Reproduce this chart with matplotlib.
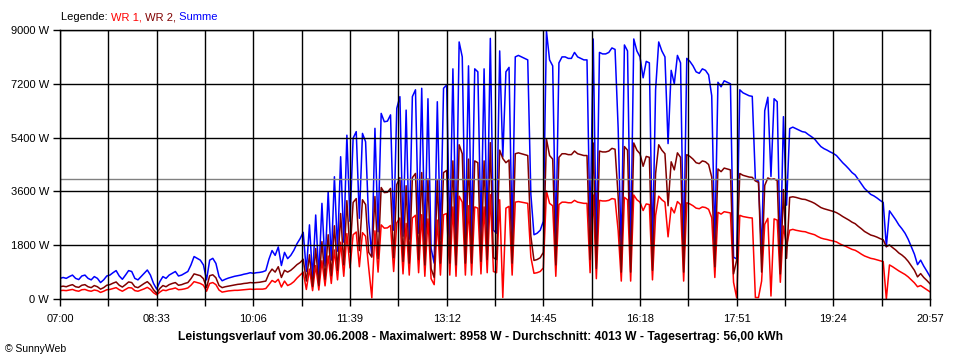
import numpy as np
import matplotlib
matplotlib.use("Agg")
import matplotlib.pyplot as plt

plt.rcParams['font.family'] = ['Liberation Sans', 'DejaVu Sans']

# Leistung je Wechselrichter, ein Wert alle 3 Minuten ab 07:00 (W)
start_label = "07:00"
step_min = 3

wr2 = [
    410, 430, 410, 450, 480, 410, 390, 460, 480, 410,
    380, 450, 410, 330, 380, 460, 480, 530, 570, 460,
    400, 480, 570, 550, 410, 380, 450, 520, 580, 480,
    310, 190, 350, 450, 410, 480, 520, 550, 460, 480,
    520, 550, 680, 840, 810, 780, 680, 380, 780, 810,
    710, 450, 380, 410, 430, 450, 470, 490, 500, 520,
    530, 550, 540, 550, 560, 580, 600, 850, 1000, 900,
    1080, 720, 960, 900, 960, 1050, 1150, 1220, 1330, 600,
    1480, 420, 1690, 450, 1920, 660, 2150, 780, 2450, 960,
    2860, 1140, 3290, 1560, 3230, 3360, 1620, 3320, 3160, 1560,
    1400, 3430, 1350, 3730, 3560, 3570, 3700, 1380, 3830, 4060,
    1260, 3790, 1200, 4060, 4200, 1320, 4230, 1140, 4020, 1020,
    720, 3960, 1200, 4230, 4300, 1200, 4620, 1140, 5160, 4860,
    1200, 4680, 1200, 4620, 4560, 1260, 4620, 1320, 5230, 1380,
    1320, 4980, 4700, 4560, 4650, 1200, 4860, 4890, 4860, 4830,
    4800, 2100, 1290, 1320, 1380, 1560, 5350, 4800, 4680, 1140,
    4740, 4860, 4860, 4830, 4830, 4950, 4860, 4830, 4800, 4800,
    1320, 5220, 1020, 4950, 4920, 4920, 4950, 5040, 5010, 3420,
    900, 5100, 4980, 900, 5220, 4980, 4860, 4440, 4770, 4740,
    960, 4200, 5160, 4980, 4860, 3120, 4590, 4320, 4890, 4740,
    900, 4830, 4770, 4680, 4560, 4530, 4620, 4590, 4500, 4080,
    1080, 4350, 4260, 4380, 4350, 4320, 840, 1300, 4200, 4140,
    4110, 4080, 4070, 3950, 3900, 900, 3800, 4050, 4000, 4020,
    3960, 840, 3660, 1360, 3400, 3420, 3400, 3370, 3340, 3330,
    3290, 3250, 3200, 3130, 3060, 3020, 2990, 2960, 2930, 2890,
    2830, 2760, 2700, 2640, 2570, 2520, 2430, 2350, 2260, 2200,
    2140, 2110, 2070, 2020, 1980, 1750, 1810, 1720, 1640, 1540,
    1470, 1380, 1260, 1110, 960, 740, 850, 720, 620, 510,
]

wr1 = [
    280, 290, 280, 300, 320, 280, 260, 310, 320, 280,
    260, 300, 280, 220, 260, 310, 320, 350, 380, 310,
    260, 320, 380, 370, 280, 260, 300, 340, 390, 320,
    210, 140, 230, 300, 280, 320, 340, 370, 310, 320,
    340, 370, 460, 580, 550, 520, 460, 260, 520, 550,
    480, 300, 230, 250, 270, 280, 290, 290, 300, 310,
    320, 330, 320, 330, 330, 330, 350, 480, 620, 560,
    660, 400, 600, 450, 500, 580, 700, 800, 900, 320,
    1000, 280, 1120, 300, 1280, 440, 1440, 520, 1640, 640,
    1900, 760, 2190, 1040, 2150, 2240, 1080, 2220, 2100, 1040,
    40, 2280, 900, 2480, 2370, 2380, 2460, 920, 2550, 2710,
    840, 2530, 800, 2710, 2800, 880, 2820, 760, 2680, 680,
    480, 2640, 800, 2820, 2860, 800, 3080, 760, 3440, 3240,
    800, 3120, 800, 3080, 3040, 840, 3080, 880, 3490, 920,
    880, 3320, 50, 3040, 3100, 800, 3240, 3260, 3240, 3220,
    3200, 1400, 860, 880, 920, 1040, 3610, 3200, 3120, 760,
    3160, 3240, 3240, 3220, 3220, 3300, 3240, 3220, 3200, 3200,
    880, 3480, 680, 3300, 3280, 3280, 3300, 3360, 3340, 2280,
    600, 3400, 3320, 600, 3480, 3320, 3240, 2960, 3180, 3160,
    640, 2800, 3440, 3320, 3240, 2080, 3060, 2880, 3260, 3160,
    600, 3220, 3180, 3120, 3040, 3020, 3080, 3060, 3000, 2720,
    720, 2900, 2840, 2920, 2900, 2880, 560, 40, 2800, 2760,
    2740, 2720, 2710, 50, 50, 600, 2500, 2700, 100, 2680,
    2640, 560, 2440, 1780, 2300, 2330, 2300, 2280, 2260, 2250,
    2210, 2180, 2150, 2090, 2040, 2010, 1990, 1960, 1940, 1910,
    1850, 1800, 1760, 1710, 1660, 1630, 1570, 1500, 1440, 1400,
    1360, 1340, 1310, 1280, 1250, 0, 1140, 1080, 1010, 940,
    880, 820, 740, 640, 540, 410, 450, 380, 310, 240,
]

x_tick_labels = ["07:00", "08:33", "10:06", "11:39", "13:12",
                 "14:45", "16:18", "17:51", "19:24", "20:57"]
x_tick_step = 93  # Minuten
y_ticks = [0, 1800, 3600, 5400, 7200, 9000]
y_tick_labels = ["0 W", "1800 W", "3600 W", "5400 W", "7200 W", "9000 W"]

average = 4013
title = ("Leistungsverlauf vom 30.06.2008 - Maximalwert: 8958 W - "
         "Durchschnitt: 4013 W - Tagesertrag: 56,00 kWh")

# Summe beider Wechselrichter
wr1 = np.array(wr1)
wr2 = np.array(wr2)
summe = wr1 + wr2
minutes = np.arange(len(wr1)) * step_min

fig = plt.figure(figsize=(9.6, 3.6), dpi=100)
ax = fig.add_axes([60 / 960, 61 / 360, 870 / 960, 269 / 360])

ax.plot(minutes, summe, color='#0000ff', lw=1.1, zorder=2)
ax.plot(minutes, wr1, color='#ff0000', lw=1.1, zorder=2.1)
ax.plot(minutes, wr2, color='#800000', lw=1.1, zorder=2.2)

ax.axhline(average, color='#808080', lw=1.0, zorder=2.4)

major = [i * x_tick_step for i in range(len(x_tick_labels))]
minor = [m + x_tick_step / 2 for m in major[:-1]]
ax.set_xticks(major)
ax.set_xticklabels(x_tick_labels)
ax.set_xticks(minor, minor=True)
ax.set_yticks(y_ticks)
ax.set_yticklabels(y_tick_labels)
ax.set_xlim(0, major[-1])
ax.set_ylim(0, 9000)

ax.set_axisbelow(False)
ax.grid(which='both', color='black', lw=1.0, zorder=2.5)
for s in ax.spines.values():
    s.set_color('black')
    s.set_linewidth(1.0)
    s.set_zorder(2.6)

ax.tick_params(which='both', direction='out', length=5, width=1,
               color='black', labelsize=8)
ax.tick_params(axis='x', pad=6)
ax.tick_params(axis='y', pad=3)

# Legende
t = fig.text(61 / 960, 1 - 17 / 360, "Legende: ", fontsize=8, va='center')
prev = t
for txt, col in [("WR 1,", '#ff0000'), (" WR 2,", '#800000'), (" Summe", '#0000ff')]:
    prev = ax.annotate(txt, xy=(1, 0), xycoords=prev, va='bottom', ha='left',
                       fontsize=8, color=col)

fig.text(0.5, 1 - 337 / 360, title, ha='center', va='center',
         fontsize=8.7, fontweight='bold')
fig.text(5 / 960, 1 - 349 / 360, "\u00a9 SunnyWeb", ha='left', va='center',
         fontsize=7.5)

fig.savefig("out.png", dpi=100, facecolor='white')
